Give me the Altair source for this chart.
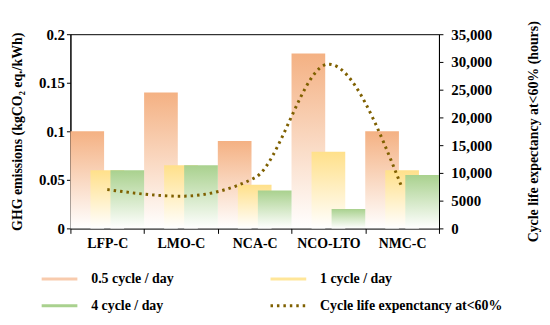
import altair as alt
import pandas as pd

categories = ["LFP-C", "LMO-C", "NCA-C", "NCO-LTO", "NMC-C"]
ghg_half = [0.10, 0.14, 0.09, 0.18, 0.10]
ghg_one = [0.06, 0.065, 0.045, 0.079, 0.06]
ghg_four = [0.06, 0.065, 0.039, 0.02, 0.055]
cycle_life = [7000, 5800, 9100, 29600, 7300]
series_names = ["0.5 cycle / day", "1 cycle / day", "4 cycle / day",
                "Cycle life expenctancy at<60%"]
left_ticks = [0, 0.05, 0.1, 0.15, 0.2]
right_ticks = [0, 5000, 10000, 15000, 20000, 25000, 30000, 35000]

bar_colors = ["#F4B183", "#FFE08A", "#A9D18E"]
legend_colors = ["#F8CBAD", "#FFE699", "#A9D18E", "#7F6000"]

FONT = "Liberation Serif"

rows = []
for s, vals in zip(series_names[:3], [ghg_half, ghg_one, ghg_four]):
    for c, v in zip(categories, vals):
        rows.append({"category": c, "series": s, "value": v})
bars_df = pd.DataFrame(rows)
line_df = pd.DataFrame({"category": categories, "series": series_names[3],
                        "hours": cycle_life})

x_enc = alt.X("category:N", sort=categories, title=None,
              scale=alt.Scale(paddingInner=0, paddingOuter=0),
              axis=alt.Axis(labelAngle=0, tickBand="extent", tickSize=5,
                            labelPadding=3))
xoff_enc = alt.XOffset("series:N",
                       scale=alt.Scale(domain=series_names[:3], paddingInner=0,
                                       paddingOuter=0.34))
y_left = alt.Y("value:Q", scale=alt.Scale(domain=[0, 0.2]),
               axis=alt.Axis(values=left_ticks, format="~g", tickSize=4,
                             labelFontSize=15,
                             title="GHG emissions (kgCO₂ eq./kWh)",
                             titlePadding=14))


def grad(color):
    return {"gradient": "linear", "x1": 0, "y1": 0, "x2": 0, "y2": 1,
            "stops": [{"offset": 0, "color": color},
                      {"offset": 1, "color": "#FFFFFF"}]}


bar_layers = []
for s, col in zip(series_names[:3], bar_colors):
    bar_layers.append(
        alt.Chart(bars_df).transform_filter(alt.datum.series == s)
        .mark_bar(size=34, fill=grad(col))
        .encode(x=x_enc, xOffset=xoff_enc, y=y_left)
    )
bars = alt.layer(*bar_layers)

leg = dict(title=None, orient="none", legendX=-31, legendY=227, columns=2,
           direction="horizontal",
           columnPadding=90, symbolType="stroke", symbolSize=1300,
           symbolStrokeWidth=3, labelOffset=12, rowPadding=0, labelLimit=400)

line = alt.Chart(line_df).mark_line(interpolate="monotone", strokeWidth=3).encode(
    x=x_enc,
    y=alt.Y("hours:Q", scale=alt.Scale(domain=[0, 35000]),
            axis=alt.Axis(orient="right", values=right_ticks, tickSize=4,
                          labelPadding=8, labelFontSize=15,
                          labelExpr="datum.value >= 10000 ? format(datum.value, ',') : format(datum.value, 'd')",
                          title="Cycle life expectancy at<60% (hours)",
                          titleAngle=270, titlePadding=49)),
    color=alt.Color("series:N",
                    scale=alt.Scale(domain=series_names, range=legend_colors),
                    legend=alt.Legend(**leg)),
    strokeDash=alt.StrokeDash("series:N",
                              scale=alt.Scale(domain=series_names,
                                              range=[[1, 0], [1, 0], [1, 0], [2.5, 4]]),
                              legend=alt.Legend(**leg)),
)

chart = alt.layer(bars, line).resolve_scale(y="independent").properties(
    width=372, height=196,
    autosize=alt.AutoSizeParams(type="none"),
    padding={"left": 63, "top": 25, "right": 104, "bottom": 88},
).configure_view(stroke="black", strokeWidth=1).configure_axis(
    labelFont=FONT, labelFontWeight="bold", labelFontSize=14, labelColor="black",
    titleFont=FONT, titleFontWeight="bold", titleFontSize=14, titleColor="black",
    domainColor="black", tickColor="black", grid=False,
).configure_legend(
    labelFont=FONT, labelFontWeight="bold", labelFontSize=14, labelColor="black",
)

chart.save("out.html", embed_options={"renderer": "svg", "actions": False})
